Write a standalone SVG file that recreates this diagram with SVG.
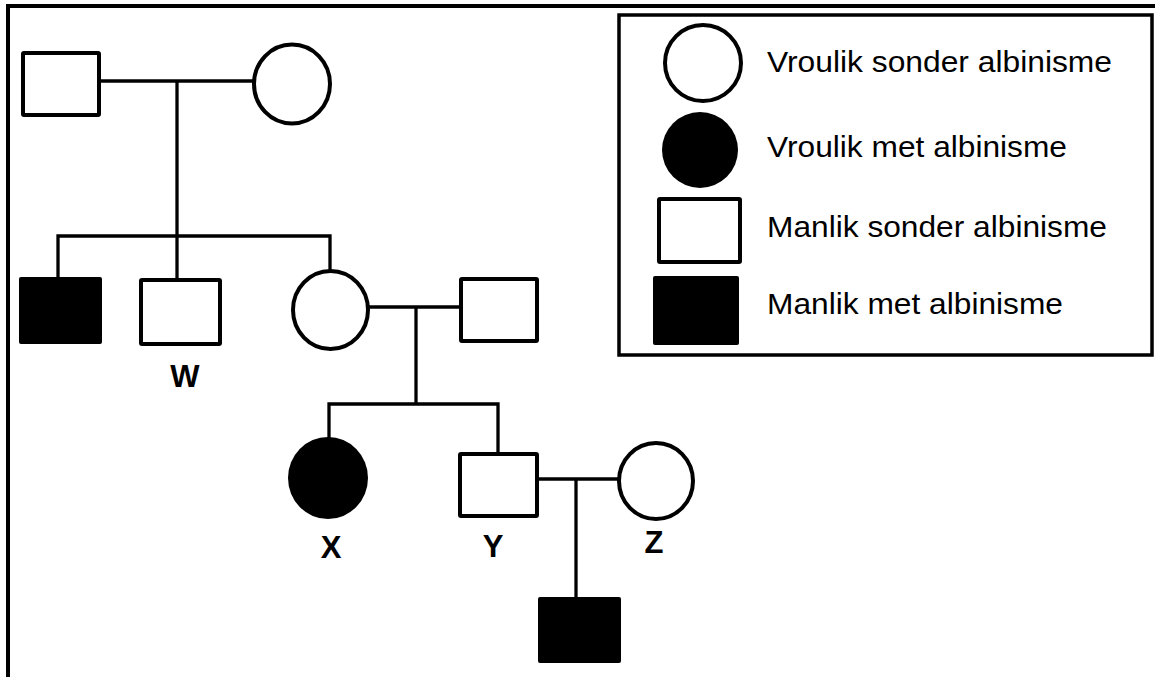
<svg xmlns="http://www.w3.org/2000/svg" width="1155" height="677" viewBox="0 0 1155 677">
<style>
.open{fill:#fff;stroke:#000;stroke-width:4}
.fill{fill:#000;stroke:none}
.ln{stroke:#000;stroke-width:3.3;fill:none}
.frame{stroke:#000;stroke-width:4;fill:none}
.lbl{font-family:"Liberation Sans",Arial,sans-serif;font-weight:bold;font-size:31px;text-anchor:middle;fill:#000}
.leg{font-family:"Liberation Sans",Arial,sans-serif;font-size:29px;fill:#000}
</style>
<rect width="1155" height="677" fill="#fff"/>
<g id="frame">
<line class="frame" x1="6" y1="6" x2="1155" y2="6"/>
<line class="frame" x1="8" y1="4" x2="8" y2="677"/>
</g>
<g id="connectors">
<line class="ln" x1="101" y1="81" x2="253" y2="81"/>
<line class="ln" x1="177" y1="81" x2="177" y2="236"/>
<polyline class="ln" points="58,277 58,236 330,236 330,271"/>
<line class="ln" x1="177" y1="236" x2="177" y2="280"/>
<line class="ln" x1="369" y1="307" x2="460" y2="307"/>
<line class="ln" x1="416" y1="307" x2="416" y2="404"/>
<polyline class="ln" points="329,439 329,404 498,404 498,454"/>
<line class="ln" x1="538" y1="479" x2="618" y2="479"/>
<line class="ln" x1="576" y1="479" x2="576" y2="598"/>
</g>
<g id="grandfather"><rect class="open" x="23" y="53" width="76" height="62" rx="1"/></g>
<g id="grandmother"><ellipse class="open" cx="292" cy="84" rx="38" ry="39.5"/></g>
<g id="son-affected"><rect class="fill" x="19" y="277" width="83" height="67" rx="2"/></g>
<g id="W"><rect class="open" x="141" y="280" width="79" height="64" rx="1"/><text class="lbl" x="185" y="387">W</text></g>
<g id="mother"><ellipse class="open" cx="330.5" cy="310" rx="37.5" ry="39"/></g>
<g id="father"><rect class="open" x="461" y="279" width="76" height="62" rx="1"/></g>
<g id="X"><ellipse class="fill" cx="328" cy="478" rx="40" ry="41"/><text class="lbl" x="331" y="558">X</text></g>
<g id="Y"><rect class="open" x="460" y="454" width="77" height="62" rx="1"/><text class="lbl" x="493" y="557">Y</text></g>
<g id="Z"><ellipse class="open" cx="656" cy="481" rx="37" ry="38"/><text class="lbl" x="654" y="553">Z</text></g>
<g id="grandson"><rect class="fill" x="538" y="597" width="83" height="66" rx="2"/></g>
<g id="legend">
<rect x="619" y="15" width="533" height="340" fill="#fff" stroke="#000" stroke-width="3.5"/>
<ellipse class="open" cx="703" cy="63" rx="38" ry="38" stroke-width="3.5"/>
<ellipse class="fill" cx="700" cy="150" rx="38" ry="38"/>
<rect class="open" x="659" y="199" width="81" height="63" rx="1" stroke-width="3.5"/>
<rect class="fill" x="653" y="276" width="86" height="69" rx="2"/>
<text class="leg" x="767" y="72" textLength="345" lengthAdjust="spacingAndGlyphs">Vroulik sonder albinisme</text>
<text class="leg" x="767" y="157" textLength="300" lengthAdjust="spacingAndGlyphs">Vroulik met albinisme</text>
<text class="leg" x="767" y="237" textLength="340" lengthAdjust="spacingAndGlyphs">Manlik sonder albinisme</text>
<text class="leg" x="767" y="314" textLength="296" lengthAdjust="spacingAndGlyphs">Manlik met albinisme</text>
</g>
</svg>
